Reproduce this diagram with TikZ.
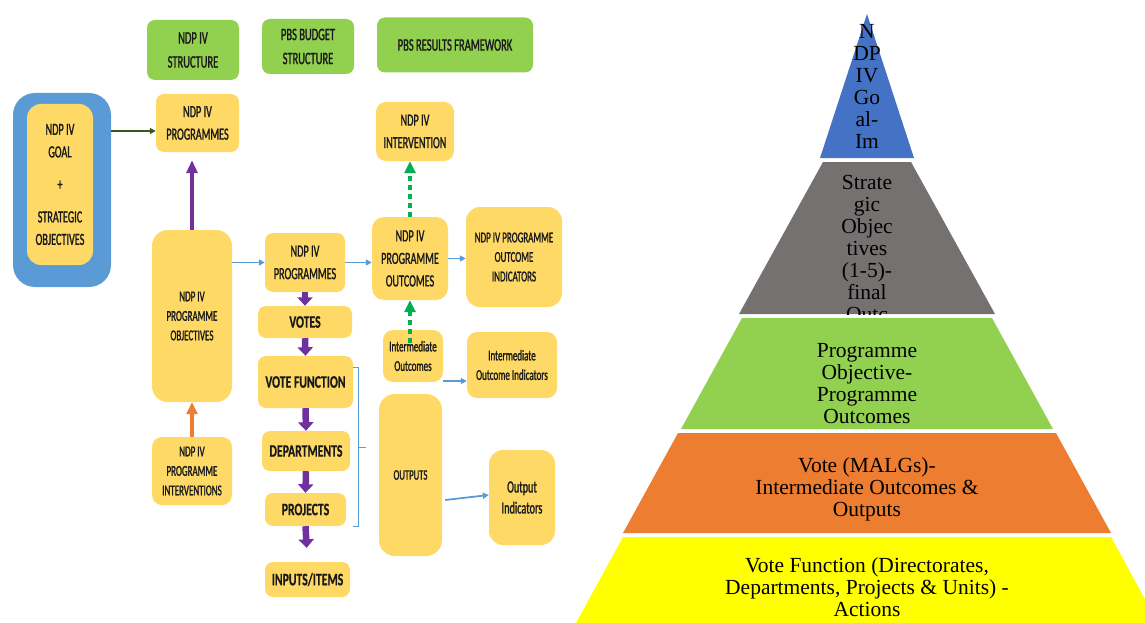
\documentclass[tikz,border=0pt]{standalone}
\usepackage{fontspec}
\setmainfont{Liberation Serif}
\newfontfamily\cf[FakeStretch=0.6,FakeBold=1.2]{Carlito}
\newfontfamily\cfb[FakeStretch=0.67,FakeBold=0.6]{Carlito}
\usetikzlibrary{arrows.meta}
\definecolor{byel}{HTML}{FFD966}
\definecolor{hgreen}{HTML}{92D050}
\definecolor{oblue}{HTML}{5B9BD5}
\definecolor{apurple}{HTML}{7030A0}
\definecolor{aorange}{HTML}{ED7D31}
\definecolor{agreen}{HTML}{00B050}
\definecolor{dgreen}{HTML}{385723}
\definecolor{pblue}{HTML}{4472C4}
\definecolor{pgrey}{HTML}{767171}
\definecolor{pgreen}{HTML}{92D050}
\definecolor{porange}{HTML}{ED7D31}
\definecolor{pyellow}{HTML}{FFFF00}
\tikzset{
  box/.style={fill=byel, rounded corners=8pt, inner sep=0pt, align=center, text=black!90},
  hdr/.style={fill=hgreen, rounded corners=8pt, inner sep=0pt, align=center, text=black!90, font=\cf\fontsize{17.5}{24}\selectfont},
  tA/.style={font=\cf\fontsize{17}{22.5}\selectfont},
  tB/.style={font=\cf\fontsize{15}{19.5}\selectfont},
  tC/.style={font=\cfb\bfseries\fontsize{17.5}{22}\selectfont},
  pur/.style={draw=apurple, line width=6.5pt, -{Triangle[width=15pt,length=8.5pt]}},
  purup/.style={draw=apurple, line width=3.5pt, -{Triangle[width=11pt,length=13pt]}},
  orn/.style={draw=aorange, line width=3.5pt, -{Triangle[width=11pt,length=12pt]}},
  blu/.style={draw=oblue, line width=1.8pt, -{Triangle[width=6pt,length=6pt]}},
  dga/.style={draw=dgreen, line width=1.8pt, -{Triangle[width=6pt,length=6pt]}},
  gda/.style={draw=agreen, line width=3.2pt, dash pattern=on 5pt off 4pt, -{Triangle[width=11pt,length=12pt]}},
  brk/.style={draw=oblue, line width=0.8pt},
  ptxt/.style={font=\fontsize{21.5}{22}\selectfont, align=center, text=black, inner sep=0pt}
}
\begin{document}
\begin{tikzpicture}[x=1pt,y=-1pt]
\useasboundingbox (0,0) rectangle (1145,623);

% ---------- header boxes ----------
\node[hdr, minimum width=92pt, minimum height=60pt] (h1) at (193,50) {NDP IV\\STRUCTURE};
\node[hdr, minimum width=92pt, minimum height=55pt] (h2) at (308,46.5) {PBS BUDGET\\STRUCTURE};
\node[hdr, minimum width=156pt, minimum height=55pt] (h3) at (455,45) {PBS RESULTS FRAMEWORK};

% ---------- goal ----------
\node[fill=oblue, rounded corners=22pt, minimum width=98pt, minimum height=194pt, inner sep=0pt] (outer) at (62,190) {};
\node[box, tA, rounded corners=14pt, minimum width=66pt, minimum height=161pt] (goal) at (60,184.5)
  {NDP IV\\GOAL\\[10pt]+\\[10pt]STRATEGIC\\OBJECTIVES};

% ---------- left column ----------
\node[box, tA, minimum width=83pt, minimum height=58pt] (p1) at (197.5,123) {NDP IV\\PROGRAMMES};
\node[box, tB, rounded corners=16pt, minimum width=80pt, minimum height=172pt] (obj) at (192,316) {NDP IV\\PROGRAMME\\OBJECTIVES};
\node[box, tB, rounded corners=10pt, minimum width=80pt, minimum height=68pt] (int) at (192,471) {NDP IV\\PROGRAMME\\INTERVENTIONS};

% ---------- budget column ----------
\node[box, tA, minimum width=80pt, minimum height=59pt] (p2) at (305,262.5) {NDP IV\\PROGRAMMES};
\node[box, tC, minimum width=94pt, minimum height=32pt] (votes) at (305,322) {VOTES};
\node[box, tC, minimum width=95pt, minimum height=52pt] (vf) at (305.5,382) {VOTE FUNCTION};
\node[box, tC, minimum width=88pt, minimum height=40pt] (dep) at (306,451) {DEPARTMENTS};
\node[box, tC, minimum width=81pt, minimum height=33pt] (proj) at (305.5,509.5) {PROJECTS};
\node[box, tC, minimum width=85pt, minimum height=35pt] (inp) at (307.5,579.5) {INPUTS/ITEMS};

% ---------- results column ----------
\node[box, tA, rounded corners=10pt, minimum width=78pt, minimum height=59pt] (iv) at (415,131.5) {NDP IV\\INTERVENTION};
\node[box, tA, rounded corners=12pt, minimum width=76pt, minimum height=83pt] (oc) at (410,258.5) {NDP IV\\PROGRAMME\\OUTCOMES};
\node[box, tB, rounded corners=14pt, minimum width=96pt, minimum height=100pt] (oci) at (514,257) {NDP IV PROGRAMME\\OUTCOME\\INDICATORS};
\node[box, tB, rounded corners=10pt, minimum width=60pt, minimum height=52pt] (im) at (413,356) {Intermediate\\Outcomes};
\node[box, tB, rounded corners=10pt, minimum width=90pt, minimum height=66pt] (imi) at (512,365) {Intermediate\\Outcome Indicators};
\node[box, font=\cf\fontsize{14.5}{19}\selectfont, rounded corners=16pt, minimum width=63pt, minimum height=162pt] (op) at (410.5,475) {OUTPUTS};
\node[box, font=\cf\fontsize{17}{21}\selectfont, rounded corners=14pt, minimum width=66pt, minimum height=95pt] (opi) at (522,497.5) {Output\\Indicators};

% ---------- connectors ----------
\draw[dga] ([yshift=-8pt]p1.west -| outer.east) -- ([yshift=-8pt]p1.west);
\draw[purup, shorten >=8pt] (obj.north) -- (obj.north |- p1.south);
\draw[orn] (int.north) -- (obj.south);
\draw[blu] (p2.west -| obj.east) -- (p2.west);
\draw[blu] (p2.east) -- (p2.east -| oc.west);
\draw[blu] (oc.east) -- (oc.east -| oci.west);
\draw[blu] ([yshift=-25pt]im.east) -- ([yshift=-25pt]im.east -| imi.west);
\draw[blu] ([xshift=3pt,yshift=-25pt]op.east) -- ([yshift=2.5pt]opi.west);

\draw[pur] (p2.south) -- (votes.north);
\draw[pur] (votes.south) -- (vf.north);
\draw[pur] (vf.south) -- (dep.north);
\draw[pur] (dep.south) -- (proj.north);
\draw[pur, shorten >=14pt] (proj.south) -- (inp.north);

\draw[gda] (oc.north) -- (oc.north |- iv.south);
\draw[gda] ([yshift=-13pt]im.north -| oc.south) -- (oc.south);

% bracket
\draw[brk] (353,367) -- (358,367) -- (358,526) -- (353,526);
\draw[brk] (358,447) -- (366,447);

% ---------- pyramid ----------
\fill[pblue] (867,14) -- (914,158) -- (820,158) -- cycle;
\fill[pgrey] (823,162) -- (911,162) -- (995,314) -- (739,314) -- cycle;
\fill[pgreen] (742,318) -- (992,318) -- (1053,429) -- (681,429) -- cycle;
\fill[porange] (678,433) -- (1056,433) -- (1111,533) -- (623,533) -- cycle;
\fill[pyellow] (623,537) -- (1111,537) -- (1158,623) -- (576,623) -- cycle;

\node[ptxt] (tblue) at (867,86) {N\\DP\\IV\\Go\\al-\\Im};
\begin{scope}
  \clip (823,162) -- (911,162) -- (995,314) -- (739,314) -- cycle;
  \node[ptxt] (tgrey) at (867,248) {Strate\\gic\\Objec\\tives\\(1-5)-\\final\\Outc};
\end{scope}
\node[ptxt] (tgreen) at (867,384) {Programme\\Objective-\\Programme\\Outcomes};
\node[ptxt] (torange) at (867,489) {Vote (MALGs)-\\Intermediate Outcomes \&\\Outputs};
\node[ptxt] (tyellow) at (867,587) {Vote Function (Directorates,\\Departments, Projects \& Units) -\\Actions};
\end{tikzpicture}
\end{document}
